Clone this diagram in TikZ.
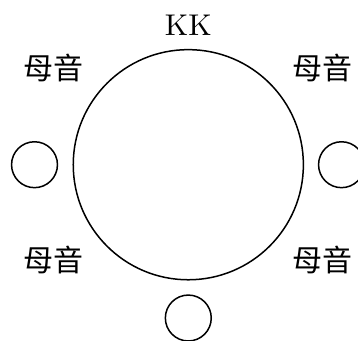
\documentclass[tikz,border=0pt]{standalone}
\usepackage{fontspec}
\newfontfamily\cjk{Noto Sans CJK SC}
\begin{document}
\begin{tikzpicture}[x=0.3333pt,y=-0.3333pt,
  ring/.style={draw,circle,line width=0.5pt,inner sep=0pt},
  lbl/.style={inner sep=0pt,font=\cjk}]
\useasboundingbox (0,0) rectangle (358,340);
\node[ring,minimum size=76.7pt] (big) at (188.3,164.7) {};
\node[ring,minimum size=15.3pt] (left) at (34.5,164.7) {};
\node[ring,minimum size=15.3pt] (right) at (341.5,164.7) {};
\node[ring,minimum size=15.3pt] (bottom) at (188.3,318) {};
\node[inner sep=0pt] (kk) at (188.3,25.5) {KK};
\node[lbl] (ul) at (53.3,68) {母音};
\node[lbl] (ur) at (322.5,68) {母音};
\node[lbl] (ll) at (53.3,260) {母音};
\node[lbl] (lr) at (322.5,260) {母音};
\end{tikzpicture}
\end{document}
